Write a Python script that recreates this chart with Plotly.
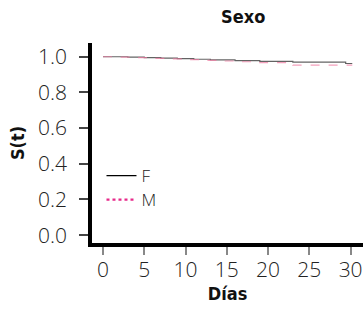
import plotly.graph_objects as go

# Kaplan-Meier style survival curves by sex
f_days = [0, 3, 5, 7, 9, 11, 13, 16, 19, 23, 29.4, 30.2]
f_surv = [1.0, 0.998, 0.995, 0.992, 0.989, 0.986, 0.982, 0.978, 0.974, 0.970, 0.962, 0.962]
m_days = [0, 2, 4, 6, 8, 10, 12, 14, 16, 19, 23, 30.2]
m_surv = [1.0, 0.998, 0.995, 0.991, 0.988, 0.984, 0.980, 0.976, 0.972, 0.967, 0.953, 0.953]

x_ticks = [0, 5, 10, 15, 20, 25, 30]
y_ticks = [0.0, 0.2, 0.4, 0.6, 0.8, 1.0]
y_tick_labels = ["0.0", "0.2", "0.4", "0.6", "0.8", "1.0"]
series_names = ["F", "M"]

fig = go.Figure()
fig.add_trace(go.Scatter(x=f_days, y=f_surv, mode="lines", showlegend=False,
                         line=dict(color="rgba(60,60,60,0.8)", width=1.2, shape="hv")))
fig.add_trace(go.Scatter(x=m_days, y=m_surv, mode="lines", showlegend=False,
                         line=dict(color="rgba(240,120,160,0.7)", width=1.2, shape="hv", dash="dash")))
# legend entries
fig.add_trace(go.Scatter(x=[None], y=[None], mode="lines", name=series_names[0],
                         legend="legend",
                         line=dict(color="black", width=1.2)))
fig.add_trace(go.Scatter(x=[None], y=[None], mode="lines", name=series_names[1],
                         legend="legend2",
                         line=dict(color="#e7298a", width=2.2, dash="dot")))

tick_font = dict(family="Open Sans", size=21, color="#222222", weight=300)
title_font = dict(family="DejaVu Sans Condensed, Roboto", size=18, color="#111111", weight="bold")
legend_font = dict(family="Open Sans", size=17, color="#222222", weight=300)

fig.update_layout(
    template="none",
    width=363, height=309,
    margin=dict(l=92, r=0, t=43, b=66, autoexpand=False),
    paper_bgcolor="white", plot_bgcolor="white",
    title=dict(text="Sexo", x=0.67, xanchor="center", y=0.945, yanchor="middle",
               font=title_font),
    showlegend=True,
    legend=dict(x=0.035, y=0.335, xanchor="left", yanchor="middle",
                font=legend_font, bgcolor="rgba(0,0,0,0)", itemwidth=30),
    legend2=dict(x=0.035, y=0.215, xanchor="left", yanchor="middle",
                 font=legend_font, bgcolor="rgba(0,0,0,0)", itemwidth=30),
    xaxis=dict(range=[-1.33, 31.5], tickvals=x_ticks, showgrid=False, zeroline=False,
               automargin=False,
               showline=True, linecolor="black", linewidth=3.5,
               ticks="outside", ticklen=8, tickcolor="#888888", tickwidth=1.5,
               tickfont=tick_font, ticklabelstandoff=-3,
               title=dict(text="Días", font=title_font, standoff=2)),
    yaxis=dict(range=[-0.044, 1.077], tickvals=y_ticks, ticktext=y_tick_labels,
               showgrid=False, zeroline=False, automargin=False,
               showline=True, linecolor="black", linewidth=3.5,
               ticks="outside", ticklen=9, tickcolor="#444444", tickwidth=1.5,
               tickfont=tick_font, ticklabelstandoff=8,
               title=dict(text="S(t)", font=title_font, standoff=10)),
)

fig.write_html("out.html", config={"displayModeBar": False},
               post_script="document.body.style.margin='0px';document.body.style.overflow='hidden';")
